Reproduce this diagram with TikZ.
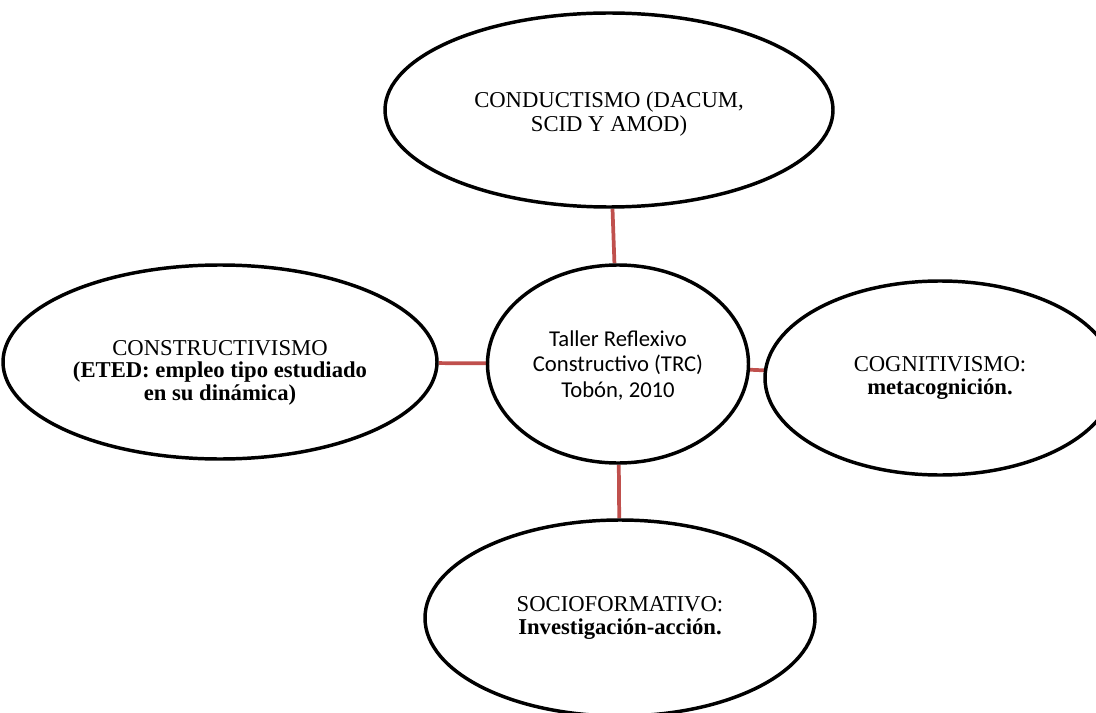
\documentclass[tikz,border=0pt]{standalone}
\usepackage{fontspec}
\setmainfont{Liberation Serif}
\newfontfamily\calib{Carlito}
\usetikzlibrary{shapes.geometric,backgrounds}
\definecolor{linkred}{HTML}{C0504D}
\tikzset{
  bubble/.style={ellipse, draw=black, line width=2.6pt, fill=white, inner sep=0pt},
  caption/.style={align=center, inner sep=0pt, font=\fontsize{17}{17.5}\selectfont},
  hubtext/.style={caption, font=\calib\fontsize{17}{19.3}\selectfont},
  link/.style={draw=linkred, line width=2.8pt}
}
\begin{document}
\begin{tikzpicture}[x=0.75pt,y=-0.75pt]
  \useasboundingbox (0,0) rectangle (1096,713);
  \clip (0,0) rectangle (1096,713);

  % ellipses
  \node[bubble, minimum width=195.75pt, minimum height=148.5pt] (trc)  at (618,364) {};
  \node[bubble, minimum width=336pt,    minimum height=145.5pt] (cond) at (609,110) {};
  \node[bubble, minimum width=325.5pt,  minimum height=145.5pt] (cons) at (220,362) {};
  \node[bubble, minimum width=262.5pt,  minimum height=145.5pt] (cogn) at (940,378) {};
  \node[bubble, minimum width=292.5pt,  minimum height=147pt]   (soci) at (620,618) {};

  % texts
  \node[hubtext] (trc-t) at ([yshift=-1pt]trc)
    {Taller Reflexivo\\Constructivo (TRC)\\Tobón, 2010};
  \node[caption] (cond-t) at ([yshift=-3pt]cond)
    {CONDUCTISMO (DACUM,\\SCID Y AMOD)};
  \node[caption, font=\fontsize{17}{17}\selectfont] (cons-t) at ([yshift=-8pt]cons)
    {CONSTRUCTIVISMO\\\textbf{(ETED: empleo tipo estudiado}\\\textbf{en su dinámica)}};
  \node[caption] (cogn-t) at (cogn)
    {COGNITIVISMO:\\\textbf{metacognición.}};
  \node[caption] (soci-t) at (soci)
    {SOCIOFORMATIVO:\\\textbf{Investigación-acción.}};

  % connectors sit beneath the ellipses, on a white page
  \begin{pgfonlayer}{background}
    \fill[white] (0,0) rectangle (1096,713);
    \draw[link] (cond) -- (trc);
    \draw[link] (cons) -- (trc);
    \draw[link] (cogn) -- (trc);
    \draw[link] (soci) -- (trc);
  \end{pgfonlayer}
\end{tikzpicture}
\end{document}
